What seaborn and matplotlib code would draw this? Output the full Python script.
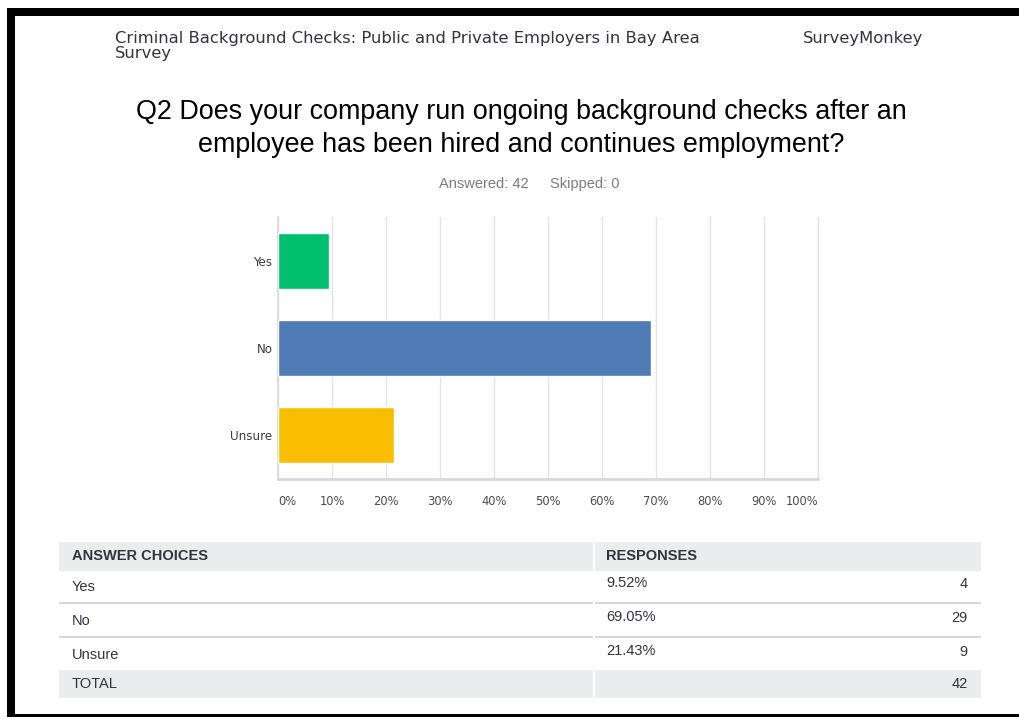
import matplotlib
matplotlib.use("Agg")
import matplotlib.pyplot as plt
from matplotlib.patches import Rectangle
import seaborn as sns
import pandas as pd

# ---- data ----
choices = ["Yes", "No", "Unsure"]
percents = [9.52, 69.05, 21.43]
counts = [4, 29, 9]
total = 42
skipped = 0
bar_colors = ["#00BF6F", "#507CB6", "#F9BE00"]
x_ticks = [0, 10, 20, 30, 40, 50, 60, 70, 80, 90, 100]
x_tick_labels = [f"{t}%" for t in x_ticks]
pct_labels = ["9.52%", "69.05%", "21.43%"]

header_left = "Criminal Background Checks: Public and Private Employers in Bay Area\nSurvey"
header_right = "SurveyMonkey"
title = ("Q2 Does your company run ongoing background checks after an\n"
         "employee has been hired and continues employment?")

sns.set_style("white")
plt.rcParams["font.family"] = ["DejaVu Sans"]

W, H = 1020, 719
fig = plt.figure(figsize=(W / 100, H / 100), dpi=100)
fig.patch.set_facecolor("white")


def fx(x):
    return x / W


def fy(y):
    return 1 - y / H


def rect(x0, y0, x1, y1, color, z=0):
    fig.patches.append(Rectangle((fx(x0), fy(y1)), fx(x1) - fx(x0), fy(y0) - fy(y1),
                                 transform=fig.transFigure, facecolor=color,
                                 edgecolor="none", zorder=z))


# ---- frame ----
rect(7, 8, 1020, 16, "black", 5)
rect(7, 8, 15, 717, "black", 5)
rect(7, 714, 1020, 717, "black", 5)

# ---- header ----
fig.text(fx(115), fy(31), header_left, ha="left", va="top", fontsize=11.75,
         color="#333340", family="DejaVu Sans", linespacing=1.0)
fig.text(fx(803), fy(31), header_right, ha="left", va="top", fontsize=11.75,
         color="#333340", family="DejaVu Sans")

fig.text(fx(521.5), fy(128.5), title, ha="center", va="center", fontsize=19.4,
         color="#000000", family="Liberation Sans", linespacing=1.33)

fig.text(fx(484), fy(184), f"Answered: {total}", ha="center", va="center",
         fontsize=10.5, color="#7a7a84", family="Liberation Sans")
fig.text(fx(585), fy(184), f"Skipped: {skipped}", ha="center", va="center",
         fontsize=10.5, color="#7a7a84", family="Liberation Sans")

# ---- bar chart ----
ax_l, ax_r, ax_t, ax_b = 278, 818, 217, 479
ax = fig.add_axes([fx(ax_l), fy(ax_b), fx(ax_r) - fx(ax_l), fy(ax_t) - fy(ax_b)])
df = pd.DataFrame({"choice": choices, "percent": percents})
sns.barplot(data=df, x="percent", y="choice", hue="choice", palette=bar_colors,
            orient="h", width=0.64, ax=ax, legend=False, saturation=1, zorder=3)
ax.set_xlim(0, 100)
ax.set_ylim(2.5, -0.5)
ax.set_xticks(x_ticks)
ax.set_xticklabels(x_tick_labels)
ax.set_xlabel("")
ax.set_ylabel("")
ax.grid(axis="x", color="#e4e4e4", linewidth=1.0, zorder=0)
ax.grid(axis="y", visible=False)
ax.spines["top"].set_visible(False)
ax.spines["right"].set_color("#e4e4e4")
ax.spines["right"].set_linewidth(1.0)
ax.spines["left"].set_color("#d8d8d8")
ax.spines["left"].set_linewidth(1.2)
ax.spines["bottom"].set_color("#d8d8d8")
ax.spines["bottom"].set_linewidth(2.0)
ax.tick_params(axis="x", length=0, pad=11.5, labelsize=8.3, labelcolor="#4a4a55")
ax.tick_params(axis="y", length=0, pad=4, labelsize=8.6, labelcolor="#3a3a45")
ax.set_axisbelow(True)
xl = ax.get_xticklabels()
xl[0].set_ha("left")
xl[-1].set_ha("right")

# ---- table ----
tbl_l, tbl_r, col_x = 59, 981, 594
gray = "#ebeced"
rect(tbl_l, 542, col_x - 1, 571, gray)
rect(col_x + 1, 542, tbl_r, 571, gray)
rect(tbl_l, 670, col_x - 1, 698, gray)
rect(col_x + 1, 670, tbl_r, 698, gray)
for yline in [603, 637]:
    rect(tbl_l, yline - 1, col_x - 1, yline + 1, "#d6d6d6")
    rect(col_x + 1, yline - 1, tbl_r, yline + 1, "#d6d6d6")

fig.text(fx(72), fy(556.5), "ANSWER CHOICES", ha="left", va="center", fontsize=10.5,
         fontweight="bold", color="#333340", family="Liberation Sans")
fig.text(fx(606), fy(556.5), "RESPONSES", ha="left", va="center", fontsize=10.5,
         fontweight="bold", color="#333340", family="Liberation Sans")

label_y = [587, 621, 655]
value_y = [583, 617, 651]
for c, p, n, ly, vy in zip(choices, pct_labels, counts, label_y, value_y):
    fig.text(fx(72), fy(ly), c, ha="left", va="center", fontsize=10.5,
             color="#333340", family="Liberation Sans")
    fig.text(fx(606), fy(vy), p, ha="left", va="center", fontsize=10.5,
             color="#333340", family="Liberation Sans")
    fig.text(fx(968), fy(vy + 1), str(n), ha="right", va="center", fontsize=10.5,
             color="#333340", family="Liberation Sans")
fig.text(fx(72), fy(684), "TOTAL", ha="left", va="center", fontsize=10.5,
         color="#333340", family="Liberation Sans")
fig.text(fx(968), fy(684), str(total), ha="right", va="center", fontsize=10.5,
         color="#333340", family="Liberation Sans")

fig.savefig("out.png", dpi=100, facecolor="white")
